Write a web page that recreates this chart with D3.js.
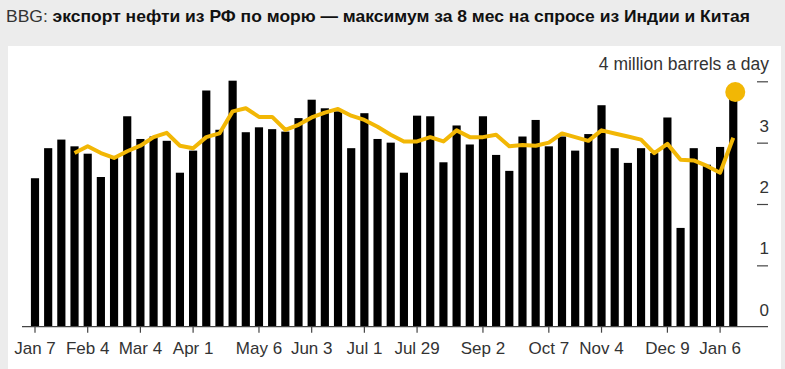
<!DOCTYPE html>
<html>
<head>
<meta charset="utf-8">
<script src="https://cdn.jsdelivr.net/npm/d3@7"></script>
<style>
    body { margin: 0; background: #ececec; }
    #chart-area { width: 785px; height: 369px; }
    text { font-family: "Liberation Sans", Arial, sans-serif; }
</style>
</head>
<body>
<div id="chart-area"></div>
<script>

// weekly seaborne crude exports, million barrels a day (weeks ending Saturday)
let weekStart = new Date(2023, 0, 7);
let weekEnd = new Date(2024, 0, 14);

let weeklyValues = [2.42, 2.91, 3.05, 2.94, 2.82, 2.44, 2.75, 3.43, 3.06, 3.10,
    3.03, 2.51, 2.87, 3.85, 3.21, 4.01, 3.17, 3.25, 3.22, 3.18,
    3.40, 3.70, 3.56, 3.51, 2.91, 3.48, 3.06, 3.00, 2.51, 3.44,
    3.43, 2.68, 3.28, 2.97, 3.43, 2.80, 2.54, 3.10, 3.37, 2.94,
    3.10, 2.87, 3.14, 3.61, 2.91, 2.67, 2.91, 2.83, 3.41, 1.61,
    2.91, 2.64, 2.93, 3.81];

// 4-week average (yellow line)
let averageValues = [null, null, null, 2.83, 2.94, 2.83, 2.75, 2.86, 2.95, 3.09,
    3.16, 2.95, 2.91, 3.09, 3.15, 3.51, 3.56, 3.42, 3.42, 3.21,
    3.29, 3.41, 3.49, 3.55, 3.44, 3.37, 3.26, 3.13, 3.02, 3.02,
    3.09, 3.02, 3.20, 3.09, 3.09, 3.13, 2.94, 2.96, 2.95, 3.00,
    3.15, 3.09, 3.03, 3.20, 3.15, 3.10, 3.05, 2.83, 2.98, 2.72,
    2.71, 2.62, 2.51, 3.08];

let xTickDates = ["2023-01-07", "2023-02-04", "2023-03-04", "2023-04-01", "2023-05-06", "2023-06-03",
    "2023-07-01", "2023-07-29", "2023-09-02", "2023-10-07", "2023-11-04", "2023-12-09", "2024-01-06"];
let xTickLabels = ["Jan 7", "Feb 4", "Mar 4", "Apr 1", "May 6", "Jun 3",
    "Jul 1", "Jul 29", "Sep 2", "Oct 7", "Nov 4", "Dec 9", "Jan 6"];

let yTicks = [0, 1, 2, 3, 4];
let yTickLabels = ["0", "1", "2", "3", "4 million barrels a day"];

let titleSource = "BBG: ";
let titleText = "экспорт нефти из РФ по морю — максимум за 8 мес на спросе из Индии и Китая";


class ExportChart {

    constructor(parentElement) {
        this.parentElement = parentElement;
        this.initVis();
    }

    initVis() {
        let vis = this;

        vis.width = 785;
        vis.height = 369;

        vis.svg = d3.select("#" + vis.parentElement).append("svg")
            .attr("width", vis.width)
            .attr("height", vis.height);

        vis.svg.append("rect")
            .attr("width", vis.width)
            .attr("height", vis.height)
            .attr("fill", "#ececec");

        // white chart panel
        vis.svg.append("rect")
            .attr("x", 8)
            .attr("y", 46)
            .attr("width", 773)
            .attr("height", 323)
            .attr("fill", "#ffffff");

        // title, stretched to the width it has in the source
        let title = vis.svg.append("text")
            .attr("x", 6)
            .attr("y", 22)
            .attr("textLength", 744)
            .attr("lengthAdjust", "spacingAndGlyphs")
            .style("font-size", "17px")
            .attr("fill", "#111");
        title.append("tspan").attr("fill", "#333").text(titleSource);
        title.append("tspan").style("font-weight", "bold").text(titleText);

        vis.weeks = d3.timeSaturday.range(weekStart, weekEnd);
        vis.displayData = vis.weeks.map((d, i) => ({date: d, value: weeklyValues[i], avg: averageValues[i]}));

        // Scales
        let step = 13.175;
        vis.x = d3.scaleBand()
            .domain(vis.weeks)
            .range([35 - step / 2, 35 + step * (vis.weeks.length - 0.5)])
            .paddingInner(0.38)
            .paddingOuter(0.19);

        vis.y = d3.scaleLinear()
            .domain([0, 4])
            .range([326.7, 81.3]);

        vis.updateVis();
    }

    updateVis() {
        let vis = this;
        let parse = d3.timeParse("%Y-%m-%d");

        // bars
        vis.svg.append("g").selectAll("rect")
            .data(vis.displayData)
            .enter().append("rect")
            .attr("x", d => vis.x(d.date))
            .attr("y", d => vis.y(d.value))
            .attr("width", vis.x.bandwidth())
            .attr("height", d => vis.y(0) - vis.y(d.value))
            .attr("fill", "#000");

        // baseline
        vis.svg.append("line")
            .attr("x1", 22)
            .attr("x2", 768)
            .attr("y1", vis.y(0))
            .attr("y2", vis.y(0))
            .attr("stroke", "#444")
            .attr("stroke-width", 1.2);

        // x axis
        let xAxis = d3.axisBottom(vis.x)
            .tickValues(xTickDates.map(parse))
            .tickFormat((d, i) => xTickLabels[i])
            .tickSize(6)
            .tickPadding(9);

        let xg = vis.svg.append("g")
            .attr("transform", "translate(0," + vis.y(0) + ")")
            .call(xAxis);
        xg.select(".domain").remove();
        xg.selectAll("line").attr("stroke", "#444").attr("stroke-width", 1.2);
        xg.selectAll("text")
            .attr("fill", "#333")
            .style("font-size", "17px")
            .style("font-family", "'Liberation Sans', Arial, sans-serif");

        // y axis on the right, labels above the tick dashes
        let yAxis = d3.axisRight(vis.y)
            .tickValues(yTicks.slice(1))
            .tickSize(11)
            .tickFormat("");

        let yg = vis.svg.append("g")
            .attr("transform", "translate(757,0)")
            .call(yAxis);
        yg.select(".domain").remove();
        yg.selectAll("line").attr("stroke", "#444").attr("stroke-width", 1.2);

        vis.svg.append("g").selectAll("text")
            .data(yTicks)
            .enter().append("text")
            .attr("x", 769)
            .attr("y", d => vis.y(d) - 11)
            .attr("text-anchor", "end")
            .attr("fill", "#333")
            .style("font-size", (d, i) => i === yTicks.length - 1 ? "17.5px" : "17px")
            .text((d, i) => yTickLabels[i]);

        // average line
        let line = d3.line()
            .defined(d => d.avg !== null)
            .x(d => vis.x(d.date) + vis.x.bandwidth() / 2)
            .y(d => vis.y(d.avg));

        vis.svg.append("path")
            .datum(vis.displayData)
            .attr("d", line)
            .attr("fill", "none")
            .attr("stroke", "#f2b705")
            .attr("stroke-width", 4)
            .attr("stroke-linejoin", "round");

        // highlight latest week
        let last = vis.displayData[vis.displayData.length - 1];
        vis.svg.append("circle")
            .attr("cx", vis.x(last.date) + vis.x.bandwidth() / 2 + 2)
            .attr("cy", vis.y(last.value) - 1)
            .attr("r", 10)
            .attr("fill", "#f2b705");
    }
}

new ExportChart("chart-area");

</script>
</body>
</html>
